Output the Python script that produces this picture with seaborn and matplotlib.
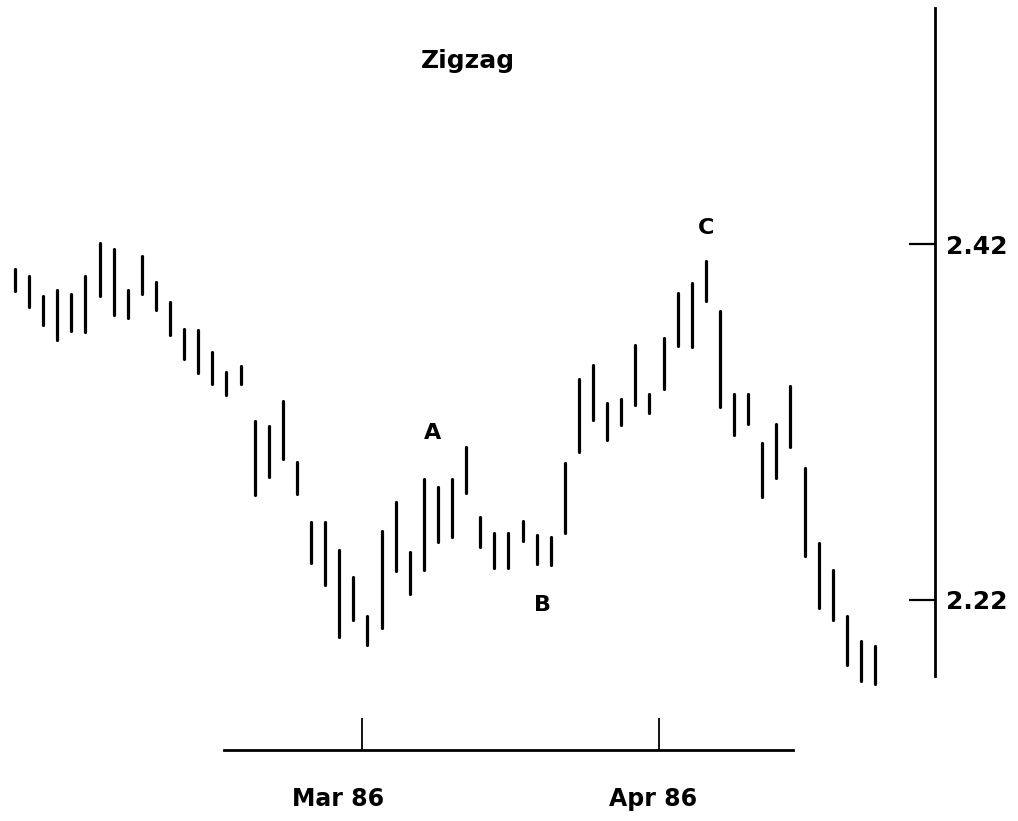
import pandas as pd
import matplotlib.pyplot as plt
import matplotlib.transforms as mtransforms
import seaborn as sns

# daily high / low bars
highs = [2.4060, 2.4020, 2.3908, 2.3942, 2.3919, 2.4020, 2.4206, 2.4172, 2.3942, 2.4133,
         2.3987, 2.3874, 2.3722, 2.3717, 2.3593, 2.3481, 2.3515, 2.3206, 2.3178, 2.3318,
         2.2975, 2.2638, 2.2638, 2.2481, 2.2329, 2.2110, 2.2588, 2.2751, 2.2470, 2.2880,
         2.2835, 2.2880, 2.3060, 2.2666, 2.2576, 2.2576, 2.2644, 2.2565, 2.2554, 2.2970,
         2.3442, 2.3520, 2.3307, 2.3329, 2.3633, 2.3357, 2.3672, 2.3925, 2.3981, 2.4105,
         2.3824, 2.3357, 2.3357, 2.3082, 2.3189, 2.3402, 2.2942, 2.2520, 2.2369, 2.2110,
         2.1970, 2.1942]
lows = [2.3936, 2.3846, 2.3745, 2.3661, 2.3711, 2.3706, 2.3908, 2.3801, 2.3784, 2.3919,
        2.3829, 2.3689, 2.3554, 2.3475, 2.3413, 2.3352, 2.3413, 2.2790, 2.2891, 2.2992,
        2.2796, 2.2408, 2.2284, 2.1992, 2.2088, 2.1947, 2.2043, 2.2363, 2.2234, 2.2369,
        2.2526, 2.2554, 2.2801, 2.2498, 2.2380, 2.2380, 2.2532, 2.2402, 2.2397, 2.2576,
        2.3032, 2.3211, 2.3099, 2.3183, 2.3296, 2.3251, 2.3385, 2.3627, 2.3621, 2.3880,
        2.3284, 2.3127, 2.3189, 2.2779, 2.2885, 2.3060, 2.2447, 2.2155, 2.2088, 2.1835,
        2.1745, 2.1728]

month_ticks = [24.6, 45.7]
month_labels = ['Mar 86', 'Apr 86']
price_ticks = [2.22, 2.42]
price_labels = ['2.22', '2.42']
wave_labels = ['A', 'B', 'C']
wave_x = [29.6, 37.4, 49.0]
wave_y = [2.3138, 2.2172, 2.4290]

# long format: two points per bar, one unit per bar -> vertical segment
n = len(highs)
df = pd.DataFrame({
    'bar': list(range(n)) * 2,
    'price': highs + lows,
})

sns.set_theme(style='white')
plt.rcParams['font.family'] = ['DejaVu Sans']
plt.rcParams['text.color'] = 'black'

fig = plt.figure(figsize=(10.18, 8.21), dpi=100)
ax = fig.add_axes([0, 0, 935 / 1018, 1])

sns.lineplot(data=df, x='bar', y='price', units='bar', estimator=None,
             color='black', linewidth=2.3, ax=ax, legend=False)

ax.set_xlim(-1.064, 65.25)
ax.set_ylim(2.0958, 2.5571)

# price axis on the right
ax.spines['left'].set_visible(False)
ax.spines['top'].set_visible(False)
ax.spines['right'].set_bounds(2.1773, 2.5526)
ax.spines['right'].set_linewidth(2)
ax.spines['right'].set_color('black')
ax.yaxis.tick_right()
ax.set_yticks(price_ticks)
ax.set_yticklabels(price_labels, fontsize=18, fontweight='bold')
ax.tick_params(axis='y', direction='in', length=19, width=1.6, pad=8, colors='black')

# time axis, short and detached below the bars
ax.spines['bottom'].set_position(('data', 2.1357))
ax.spines['bottom'].set_bounds(14.8, 55.2)
ax.spines['bottom'].set_linewidth(2)
ax.spines['bottom'].set_color('black')
ax.set_xticks(month_ticks)
ax.set_xticklabels(month_labels, fontsize=17, fontweight='bold')
ax.tick_params(axis='x', direction='in', length=23, width=1.3, pad=27, colors='black', bottom=True)

# month labels sit a little left of their ticks in the original
for lab, dx in zip(ax.get_xticklabels(), [-24, -6]):
    lab.set_transform(lab.get_transform() + mtransforms.ScaledTranslation(dx / 100, 0, fig.dpi_scale_trans))

ax.set_xlabel('')
ax.set_ylabel('')
ax.set_title('Zigzag', fontsize=18, fontweight='bold', y=0.907, color='black')

for lab, x, y in zip(wave_labels, wave_x, wave_y):
    ax.text(x, y, lab, fontsize=16, fontweight='bold', ha='center', va='center', color='black')

fig.savefig('out.png', dpi=100)
